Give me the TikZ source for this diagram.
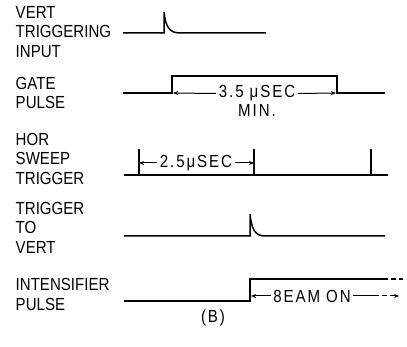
\documentclass[tikz,border=0pt]{standalone}
\usepackage{fontspec}
\setmainfont[FakeStretch=0.86]{Liberation Sans}
\usetikzlibrary{arrows.meta}

\begin{document}
\begin{tikzpicture}[x=1pt,y=-1pt,line width=1.5pt,>={Stealth[length=5pt,width=4pt]},
  lbl/.style={anchor=west,align=left,inner sep=0pt,font=\fontsize{17.5}{19.5}\selectfont},
  dimtxt/.style={inner sep=2pt,font=\fontsize{17.5}{19.5}\selectfont\addfontfeature{LetterSpace=11}},
  dimline/.style={line width=1pt}]
\useasboundingbox (0,0) rectangle (407,347);
% ---------- fast rise, exponential tail ----------
% #1 = x of rise, #2 = baseline y, #3 = peak y, #4 = x where tail ends
\newcommand{\spike}[4]{%
  (#1,#2) -- (#1,#3) .. controls (#1+1.5,#2-7) and (#1+5,#2) .. (#4,#2)
}
% ---------- signal names ----------
\node[lbl] (vertin) at (15,32)    {VERT\\TRIGGERING\\INPUT};
\node[lbl] (gate)   at (15,93)    {GATE\\PULSE};
\node[lbl] (hor)    at (15,158.5) {HOR\\SWEEP\\TRIGGER};
\node[lbl] (trig)   at (15,227.5) {TRIGGER\\TO\\VERT};
\node[lbl] (inten)  at (15,294.5) {INTENSIFIER\\PULSE};
% ---------- vert triggering input ----------
\coordinate (v0) at (123,33);
\coordinate (v2) at (266,33);
\draw (v0) -- \spike{164}{33}{12}{180} -- (v2);
% ---------- gate pulse ----------
\coordinate (g0) at (123,93);
\coordinate (g1) at (172,93);
\coordinate (g2) at (337,93);
\coordinate (g3) at (385,93);
\draw (g0) -- (g1) -- ++(0,-17) -| (g2) -- (g3);
\node[dimtxt] (gdim) at (257,93.5) {3.5 μSEC};
\node[dimtxt] (gmin) at (257,110.5) {MIN.};
\draw[dimline,->] (gdim.west) -- ([xshift=1pt]g1);
\draw[dimline,->] (gdim.east) -- ([xshift=-1pt]g2);
% ---------- hor sweep trigger ----------
\coordinate (h0) at (124,175);
\coordinate (h4) at (388,175);
\draw (h0) -- (h4);
\foreach \hx/\hn in {139/h1,254/h2,371/h3}{%
  \coordinate (\hn) at (\hx,175);
  \draw (\hn) -- ++(0,-26);
}
\node[dimtxt] (hdim) at (196,163) {2.5μSEC};
\draw[dimline,->] (hdim.west) -- ([yshift=12pt]h1);
\draw[dimline,->] (hdim.east) -- ([yshift=12pt]h2);
% ---------- trigger to vert ----------
\coordinate (t0) at (124,236);
\coordinate (t1) at (385,236);
\draw (t0) -- \spike{250}{236}{214}{265} -- (t1);
% ---------- intensifier pulse ----------
\coordinate (i0) at (124,301);
\coordinate (i1) at (250,301);
\coordinate (i2) at (383,279);
\coordinate (i3) at (403,279);
\draw (i0) -- (i1) |- (i2);
\draw[dash pattern=on 5pt off 3pt] (i2) -- (i3);
\node[dimtxt] (idim) at (312,296) {8EAM ON};
\coordinate (ia) at (251,296);
\coordinate (ib) at (374,296);
\coordinate (ic) at (399,296);
\draw[dimline,->] (idim.west) -- (ia);
\draw[dimline] (idim.east) -- (ib);
\draw[dimline,dash pattern=on 5pt off 3pt,->] (ib) -- (ic);
% ---------- caption ----------
\node[dimtxt] (capb) at (213,318) {(B)};
\end{tikzpicture}
\end{document}
